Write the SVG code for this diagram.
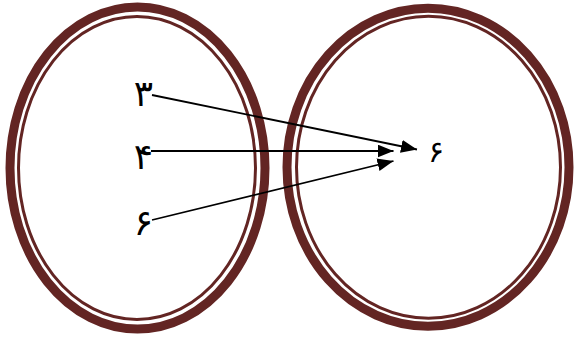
<svg xmlns="http://www.w3.org/2000/svg" width="574" height="337" viewBox="0 0 574 337">
<defs>
<style>
.thick{fill:none;stroke:#632523;stroke-width:9}
.thin{fill:none;stroke:#632523;stroke-width:3}
.lbl{font-family:"DejaVu Sans",sans-serif;font-size:36px;fill:#000;text-anchor:end}
.conn line{stroke:#000;stroke-width:1.8}
</style>
<marker id="ah" markerUnits="userSpaceOnUse" markerWidth="18" markerHeight="14" refX="16" refY="6.5" orient="auto">
<path d="M0,0 L16,6.5 L0,13 z" fill="#000"/>
</marker>
</defs>
<rect width="574" height="337" fill="#fff"/>
<g id="setA">
<ellipse class="thick" cx="137.5" cy="168" rx="127.5" ry="161"/>
<ellipse class="thin" cx="137" cy="168" rx="118.5" ry="151.5"/>
</g>
<g id="setB">
<ellipse class="thick" cx="428" cy="167.2" rx="141" ry="159"/>
<ellipse class="thin" cx="428.5" cy="167.3" rx="132" ry="151"/>
</g>
<g id="n3"><text class="lbl" x="153" y="106">۳</text></g>
<g id="n4"><text class="lbl" x="153" y="169">۴</text></g>
<g id="n6a"><text class="lbl" x="153" y="235">۶</text></g>
<g id="n6b"><text class="lbl" x="444" y="162" style="font-size:30px">۶</text></g>
<g id="connectors" class="conn">
<line x1="152" y1="95" x2="417" y2="149.5" marker-end="url(#ah)"/>
<line x1="151" y1="151" x2="393.5" y2="151" marker-end="url(#ah)"/>
<line x1="152" y1="220" x2="393.5" y2="161" marker-end="url(#ah)"/>
</g>
</svg>
